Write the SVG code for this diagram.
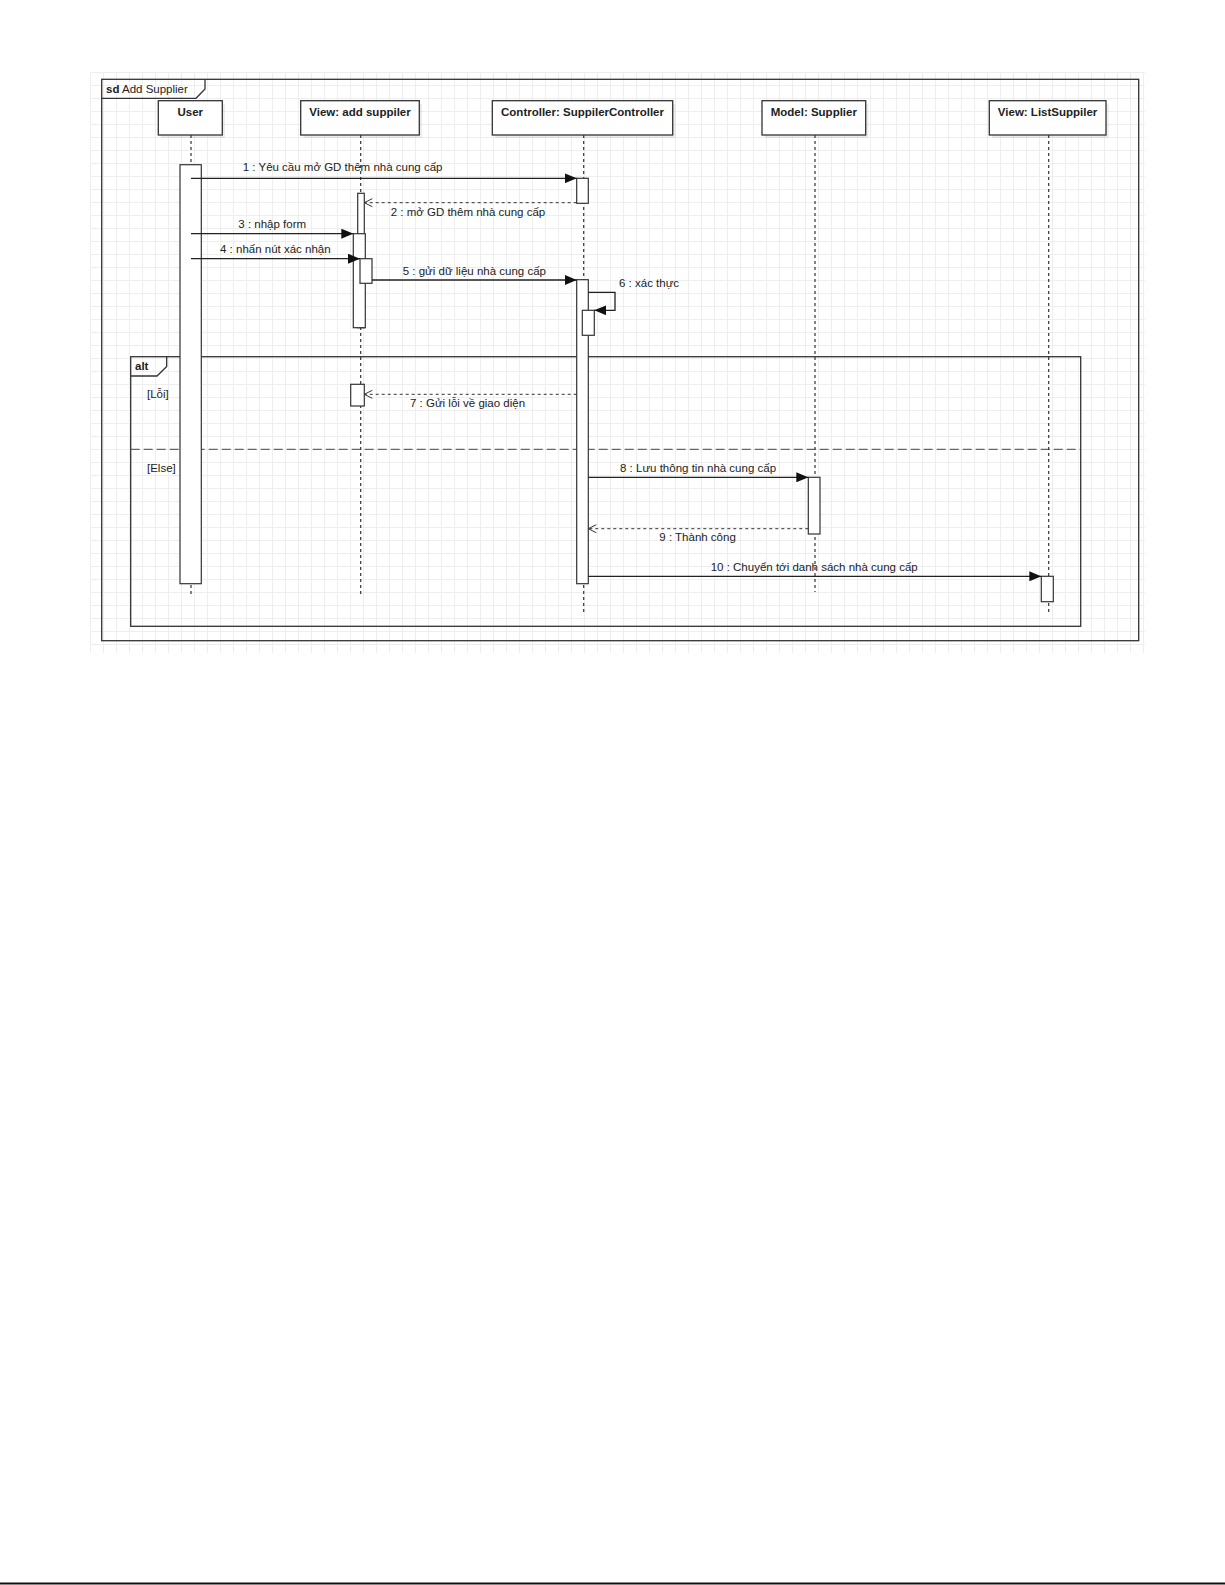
<svg xmlns="http://www.w3.org/2000/svg" width="1225" height="1585" viewBox="0 0 1225 1585">
<defs>
<pattern id="grid" x="90" y="72" width="13" height="13" patternUnits="userSpaceOnUse">
<path d="M0 0.5H13M0.5 0V13" fill="none" stroke="#eeeeee" stroke-width="1"/>
</pattern>
<marker id="filled" viewBox="0 0 12 10" refX="12" refY="5" markerWidth="12" markerHeight="10" markerUnits="userSpaceOnUse" orient="auto">
<path d="M0 0L12 5L0 10Z" fill="#111"/>
</marker>
<marker id="open" viewBox="0 0 10 10" refX="9" refY="5" markerWidth="10" markerHeight="10" markerUnits="userSpaceOnUse" orient="auto">
<path d="M1 1L9 5L1 9" fill="none" stroke="#333" stroke-width="1"/>
</marker>
</defs>
<style>
text{font-family:"Liberation Sans",Arial,sans-serif;font-size:11.5px;fill:#222}
.hd{font-weight:bold;text-anchor:middle}
.box{fill:#fff;stroke:#333;stroke-width:1.3}
.shadow{fill:#000;opacity:0.07}
.life{stroke:#333;stroke-width:1.2;stroke-dasharray:3 3;fill:none}
.act{fill:#fff;stroke:#333;stroke-width:1.2}
.frame{fill:none;stroke:#333;stroke-width:1.3}
.msg{stroke:#222;stroke-width:1.3;fill:none}
.ret{stroke:#333;stroke-width:1;stroke-dasharray:3 3;fill:none}
</style>
<rect width="1225" height="1585" fill="#fff"/>
<rect x="90" y="72" width="1055" height="581" fill="url(#grid)"/>
<line x1="0" y1="1583.5" x2="1225" y2="1583.5" stroke="#111" stroke-width="2"/>

<g id="frame-sd">
<rect class="frame" x="101.7" y="79.3" width="1037" height="561.4"/>
<path class="frame" d="M101.7 98.3H196L205 89V79.3" fill="#fff"/>
<text x="106" y="93"><tspan font-weight="bold">sd</tspan> Add Supplier</text>
</g>

<g id="frame-alt">
<rect class="frame" x="130.7" y="356.7" width="950" height="269.6"/>
<path class="frame" d="M130.7 376H157L166.7 366.5V356.7"/>
<text x="135" y="370" font-weight="bold">alt</text>
<line x1="130.7" y1="449.3" x2="1080.7" y2="449.3" stroke="#444" stroke-width="1" stroke-dasharray="9 4"/>
<text x="147" y="398">[Lỗi]</text>
<text x="147" y="471.5">[Else]</text>
</g>

<g id="user">
<rect class="shadow" x="161" y="104" width="64" height="34"/>
<rect class="box" x="158.3" y="100.7" width="64" height="34.3"/>
<text class="hd" x="190.3" y="115.5">User</text>
<line class="life" x1="191" y1="135" x2="191" y2="597"/>
<rect class="act" x="180" y="164.7" width="21.3" height="419"/>
</g>

<g id="view-add">
<rect class="shadow" x="303.5" y="104" width="118.6" height="34"/>
<rect class="box" x="300.7" y="100.7" width="118.6" height="34.3"/>
<text class="hd" x="360" y="115.5">View: add suppiler</text>
<line class="life" x1="360.7" y1="135" x2="360.7" y2="596"/>
<rect class="act" x="357.7" y="193.3" width="6.6" height="134.4"/>
<rect class="act" x="353.3" y="233.7" width="12" height="94"/>
<rect class="act" x="360" y="258.7" width="12" height="24.6"/>
<rect class="act" x="350.7" y="384.3" width="13.6" height="21.7"/>
</g>

<g id="controller">
<rect class="shadow" x="495" y="104" width="180.4" height="34"/>
<rect class="box" x="492.3" y="100.7" width="180.4" height="34.3"/>
<text class="hd" x="582.5" y="115.5">Controller: SuppilerController</text>
<line class="life" x1="583.7" y1="135" x2="583.7" y2="613"/>
<rect class="act" x="576.7" y="178.3" width="11.6" height="25"/>
<rect class="act" x="576.7" y="279.7" width="11.6" height="304"/>
<rect class="act" x="582.3" y="310.3" width="12" height="25"/>
</g>

<g id="model">
<rect class="shadow" x="764.7" y="104" width="103.7" height="34"/>
<rect class="box" x="762" y="100.7" width="103.7" height="34.3"/>
<text class="hd" x="813.8" y="115.5">Model: Supplier</text>
<line class="life" x1="815" y1="135" x2="815" y2="592"/>
<rect class="act" x="808.3" y="477.3" width="11.7" height="56.7"/>
</g>

<g id="view-list">
<rect class="shadow" x="992" y="104" width="116.7" height="34"/>
<rect class="box" x="989.3" y="100.7" width="116.7" height="34.3"/>
<text class="hd" x="1047.6" y="115.5">View: ListSuppiler</text>
<line class="life" x1="1048.7" y1="135" x2="1048.7" y2="613.5"/>
<rect class="act" x="1041.3" y="576.3" width="12" height="25.4"/>
</g>

<g id="connectors">
<line class="msg" x1="191" y1="178.3" x2="576.7" y2="178.3" marker-end="url(#filled)"/>
<text x="242.7" y="171">1 : Yêu cầu mở GD thêm nhà cung cấp</text>
<line class="ret" x1="576.7" y1="202.7" x2="364.3" y2="202.7" marker-end="url(#open)"/>
<text x="390.7" y="215.7">2 : mở GD thêm nhà cung cấp</text>
<line class="msg" x1="191" y1="233.7" x2="353.3" y2="233.7" marker-end="url(#filled)"/>
<text x="238.3" y="228">3 : nhập form</text>
<line class="msg" x1="191" y1="258.7" x2="360" y2="258.7" marker-end="url(#filled)"/>
<text x="220" y="253">4 : nhấn nút xác nhận</text>
<line class="msg" x1="372" y1="280" x2="576.7" y2="280" marker-end="url(#filled)"/>
<text x="402.7" y="274.7">5 : gửi dữ liệu nhà cung cấp</text>
<path class="msg" d="M588.3 292.3H615V310.3H594.3" marker-end="url(#filled)"/>
<text x="619" y="286.7">6 : xác thực</text>
<line class="ret" x1="576.7" y1="394.3" x2="364.3" y2="394.3" marker-end="url(#open)"/>
<text x="410" y="407.3">7 : Gửi lỗi về giao diện</text>
<line class="msg" x1="588.3" y1="477.3" x2="808.3" y2="477.3" marker-end="url(#filled)"/>
<text x="620" y="471.7">8 : Lưu thông tin nhà cung cấp</text>
<line class="ret" x1="808.3" y1="528.7" x2="588.3" y2="528.7" marker-end="url(#open)"/>
<text x="659.3" y="540.7">9 : Thành công</text>
<line class="msg" x1="588.3" y1="576.3" x2="1041.3" y2="576.3" marker-end="url(#filled)"/>
<text x="710.7" y="570.7">10 : Chuyển tới danh sách nhà cung cấp</text>
</g>
</svg>
